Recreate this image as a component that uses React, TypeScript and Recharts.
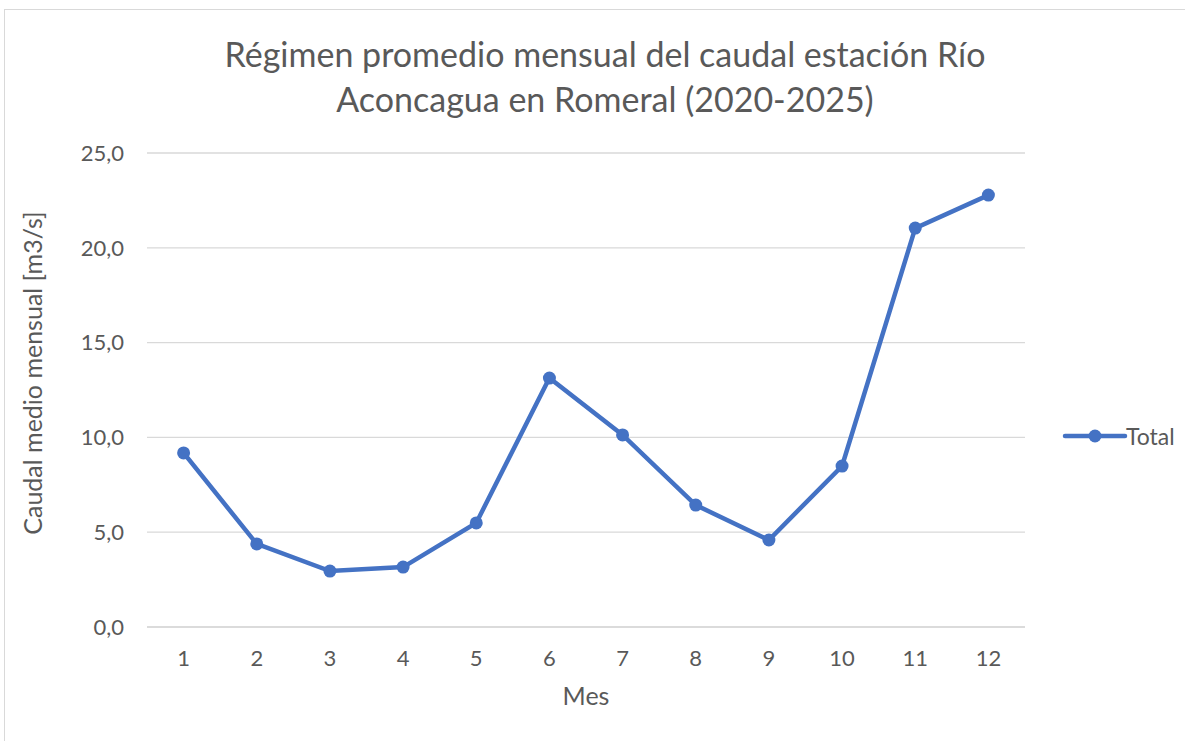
import React from 'react'
import {CartesianGrid, Line, LineChart, XAxis, YAxis} from 'recharts'

const months = ['1', '2', '3', '4', '5', '6', '7', '8', '9', '10', '11', '12']
const caudal = [9.18, 4.38, 2.95, 3.16, 5.49, 13.13, 10.13, 6.43, 4.59, 8.49, 21.04, 22.78]
const yTicks = [0, 5, 10, 15, 20, 25]

const data = months.map((m, i) => ({mes: m, total: caudal[i]}))

const font = 'Lato, "Open Sans", sans-serif'
const grey = '#595959'
const blue = '#4472C4'

const LegendBox = () => (
    <div style={{
        position: 'absolute', left: 1062, top: 422, display: 'flex', alignItems: 'center',
        fontFamily: font, fontSize: 23, color: grey
    }}>
        <svg width={66} height={26}>
            <line x1={3} y1={13} x2={63} y2={13} stroke={blue} strokeWidth={4.5} strokeLinecap='round' />
            <circle cx={33} cy={13} r={6.5} fill={blue} />
        </svg>
        <span style={{marginLeft: -2}}>Total</span>
    </div>
)

const YLabel = () => (
    <text x={42} y={373} transform='rotate(-90 42 373)' textAnchor='middle' fill={grey} fontSize={25} fontFamily={font}>
        Caudal medio mensual [m3/s]
    </text>
)

const App = () => {
    return (
        <div style={{position: 'absolute', left: 0, top: 0, width: 1185, height: 741, background: '#fff', overflow: 'hidden'}}>
            <div style={{position: 'absolute', left: 4, top: 9, width: 1200, height: 760, border: '1px solid #d9d9d9'}} />
            <div style={{
                position: 'absolute', left: 0, width: 1210, top: 31, textAlign: 'center',
                fontFamily: font, fontSize: 34, lineHeight: '45px', color: grey
            }}>
                Régimen promedio mensual del caudal estación Río<br />Aconcagua en Romeral (2020-2025)
            </div>
            <div style={{position: 'absolute', left: 0, top: 0}}>
                <LineChart
                    width={1185}
                    height={741}
                    data={data}
                    margin={{top: 153, right: 160, bottom: 0, left: 0}}
                >
                    <CartesianGrid vertical={false} stroke='#d9d9d9' strokeWidth={1.3} />
                    <XAxis
                        dataKey='mes'
                        padding={{left: 36.6, right: 36.6}}
                        axisLine={{stroke: '#d9d9d9', strokeWidth: 1.3}}
                        tickLine={false}
                        tick={{fill: grey, fontSize: 22, fontFamily: font}}
                        tickMargin={17}
                        height={114}
                        label={{value: 'Mes', position: 'insideTop', offset: 60, fill: grey, fontSize: 25, fontFamily: font}}
                    />
                    <YAxis
                        domain={[0, 25]}
                        ticks={yTicks}
                        width={147}
                        axisLine={false}
                        tickLine={false}
                        tickMargin={17}
                        tickFormatter={(v: number) => v.toFixed(1).replace('.', ',')}
                        tick={{fill: grey, fontSize: 22, fontFamily: font}}
                        label={{content: () => <YLabel />}}
                    />
                    <Line
                        type='linear'
                        dataKey='total'
                        name='Total'
                        stroke={blue}
                        strokeWidth={4.5}
                        dot={{r: 6.5, fill: blue, stroke: blue, strokeWidth: 0}}
                        activeDot={false}
                        isAnimationActive={false}
                    />
                </LineChart>
            </div>
            <LegendBox />
        </div>
    )
}

export default App
